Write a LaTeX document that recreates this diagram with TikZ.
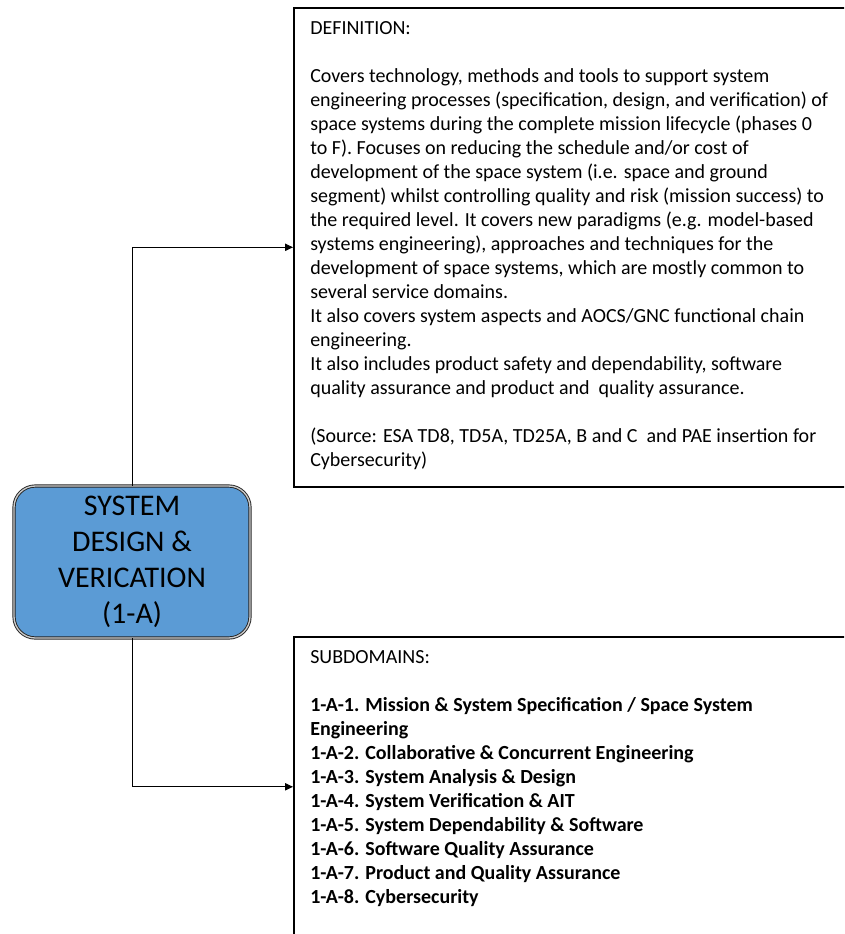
\documentclass[tikz,border=0pt]{standalone}
\usepackage{fontspec}
\setmainfont{Carlito}
\usetikzlibrary{arrows.meta,positioning}
\definecolor{sysblue}{HTML}{5B9BD5}
\tikzset{
  infobox/.style={draw, line width=1.2pt, minimum width=420pt, inner sep=0pt, anchor=north west},
  sysbox/.style={draw=black!85, double=black!20, double distance=1pt, line width=0.7pt, fill=sysblue, rounded corners=16pt, minimum width=177pt, minimum height=114pt, align=center, font=\fontsize{22.5}{27}\selectfont},
  boxtext/.style={inner sep=0pt, align=left, font=\fontsize{15}{18}\selectfont},
  link/.style={line width=0.75pt, -{Triangle[length=6pt,width=5.5pt]}}
}

\begin{document}
\begin{tikzpicture}[x=0.75pt,y=-0.75pt]
    \useasboundingbox (0,0) rectangle (844,934);
    \clip (0,0) rectangle (844,934);
    %
    \node[infobox, minimum height=359.25pt] (def) at (293,7) {};
    \node[infobox, minimum height=225pt] (sub) at (293,636) {};
    \node[sysbox] (sys) at (132,562) {SYSTEM\\DESIGN \&\\VERICATION\\(1-A)};
    %
    \node[boxtext, below right=11pt and 12.75pt of def.north west] (deftxt) {DEFINITION:\\[18pt]
      Covers technology, methods and tools to support system\\
      engineering processes (specification, design, and verification) of\\
      space systems during the complete mission lifecycle (phases 0\\
      to F). Focuses on reducing the schedule and/or cost of\\
      development of the space system (i.e. space and ground\\
      segment) whilst controlling quality and risk (mission success) to\\
      the required level. It covers new paradigms (e.g. model-based\\
      systems engineering), approaches and techniques for the\\
      development of space systems, which are mostly common to\\
      several service domains.\\
      It also covers system aspects and AOCS/GNC functional chain\\
      engineering.\\
      It also includes product safety and dependability, software\\
      quality assurance and product and~ quality assurance.\\[18pt]
      (Source: ESA TD8, TD5A, TD25A, B and C~ and PAE insertion for\\
      Cybersecurity)};
    \node[boxtext, below right=11pt and 12.75pt of sub.north west] (subtxt) {SUBDOMAINS:\\[18pt]
      \textbf{1-A-1. Mission \& System Specification / Space System}\\
      \textbf{Engineering}\\
      \textbf{1-A-2. Collaborative \& Concurrent Engineering}\\
      \textbf{1-A-3. System Analysis \& Design}\\
      \textbf{1-A-4. System Verification \& AIT}\\
      \textbf{1-A-5. System Dependability \& Software}\\
      \textbf{1-A-6. Software Quality Assurance}\\
      \textbf{1-A-7. Product and Quality Assurance}\\
      \textbf{1-A-8. Cybersecurity}};
    %
    \draw[link] (sys.north) |- (def.west);
    \draw[link] (sys.south) |- (sub.west);
\end{tikzpicture}
\end{document}
